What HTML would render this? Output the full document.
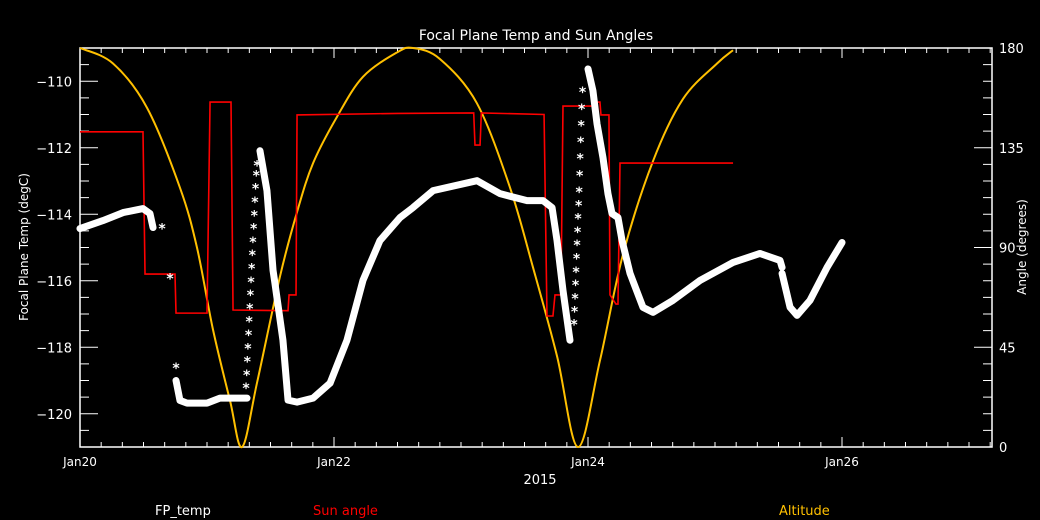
<!DOCTYPE html>
<html><head><meta charset="utf-8">
<style>
html,body{margin:0;padding:0;background:#000;}
svg{display:block;font-family:"DejaVu Sans","Liberation Sans",sans-serif;}
</style></head>
<body>
<svg id="chart" width="1040" height="520" viewBox="0 0 1040 520" xmlns="http://www.w3.org/2000/svg">
<rect width="1040" height="520" fill="#000"/>
<text x="536" y="40" fill="#fff" font-size="14" text-anchor="middle">Focal Plane Temp and Sun Angles</text>
<text transform="translate(28,247) rotate(-90)" fill="#fff" font-size="12" text-anchor="middle">Focal Plane Temp (degC)</text>
<text transform="translate(1026,247) rotate(-90)" fill="#fff" font-size="12" text-anchor="middle">Angle (degrees)</text>
<text x="540" y="484" fill="#fff" font-size="13" text-anchor="middle">2015</text>
<text x="155" y="515" fill="#fff" font-size="13">FP_temp</text>
<text x="313" y="515" fill="#ff0000" font-size="13">Sun angle</text>
<text x="779" y="515" fill="#ffc000" font-size="13">Altitude</text>
<g id="axes"></g>
<g id="series"></g>
</svg>
<script>
const xTicks = [0, 2, 4, 6];
const xTickLabels = ["Jan20", "Jan22", "Jan24", "Jan26"];
const yTicks = [-120, -118, -116, -114, -112, -110];
const y2Ticks = [0, 45, 90, 135, 180];
const tempLine1 = [[0,-114.43],[0.181,-114.19],[0.339,-113.95],[0.496,-113.83],[0.551,-113.98],[0.575,-114.4]];
const tempLine2 = [[0.756,-119.0],[0.787,-119.6],[0.843,-119.68],[1.0,-119.68],[1.102,-119.53],[1.315,-119.53]];
const tempLine3 = [[1.417,-112.09],[1.472,-113.29],[1.52,-115.69],[1.535,-116.08],[1.598,-117.79],[1.638,-119.59],[1.709,-119.65],[1.835,-119.53],[1.969,-119.08],[2.102,-117.79],[2.228,-115.99],[2.362,-114.79],[2.52,-114.1],[2.622,-113.8],[2.78,-113.29],[3.126,-112.99],[3.307,-113.38],[3.52,-113.59],[3.646,-113.59],[3.717,-113.8],[3.756,-114.79],[3.803,-116.29],[3.858,-117.79]];
const tempLine4 = [[4.0,-109.63],[4.039,-110.29],[4.071,-111.28],[4.118,-112.3],[4.157,-113.38],[4.189,-113.98],[4.236,-114.1],[4.268,-114.79],[4.331,-115.78],[4.433,-116.8],[4.512,-116.95],[4.669,-116.59],[4.882,-115.99],[5.142,-115.45],[5.354,-115.18],[5.512,-115.39],[5.528,-115.6]];
const tempLine5 = [[5.528,-115.78],[5.591,-116.8],[5.646,-117.04],[5.748,-116.59],[5.882,-115.6],[6.0,-114.85]];
const tempStars = [[0.646,-114.4],[0.709,-115.9],[0.756,-118.6],
 [1.307,-119.2],[1.312,-118.8],[1.317,-118.4],[1.322,-118.0],[1.327,-117.6],[1.332,-117.2],[1.337,-116.8],[1.342,-116.4],[1.347,-116.0],[1.352,-115.6],[1.357,-115.2],[1.362,-114.8],[1.367,-114.4],[1.372,-114.0],[1.377,-113.6],[1.382,-113.2],[1.388,-112.8],[1.394,-112.5],
 [3.89,-117.28],[3.894,-116.9],[3.898,-116.5],[3.902,-116.1],[3.906,-115.7],[3.91,-115.3],[3.914,-114.9],[3.918,-114.5],[3.922,-114.1],[3.926,-113.7],[3.93,-113.3],[3.934,-112.8],[3.938,-112.3],[3.942,-111.8],[3.946,-111.3],[3.95,-110.8],[3.957,-110.3]];
const sunAngle = [[0,142.2],[0.496,142.2],[0.512,78],[0.748,78],[0.756,60.4],[1.0,60.4],[1.024,155.6],[1.189,155.6],[1.205,61.8],[1.638,61.5],[1.646,68.6],[1.701,68.6],[1.709,149.8],[2.5,150.5],[3.1,150.7],[3.11,136.2],[3.15,136.2],[3.16,150.7],[3.654,150],[3.677,59.1],[3.724,59.1],[3.74,68.6],[3.787,68.6],[3.803,153.8],[4.039,153.8],[4.063,155.6],[4.094,155.6],[4.102,149.8],[4.165,149.8],[4.173,68.6],[4.22,64.5],[4.236,64.5],[4.252,128.1],[5.142,128.1]];
const altitude = [[0,180],[0.26,173],[0.528,153],[0.787,117],[0.921,90],[1.047,53],[1.181,21],[1.276,0],[1.394,29],[1.575,77],[1.709,106],[1.835,128],[2.024,149],[2.228,167],[2.496,178],[2.622,180],[2.835,175],[3.126,155],[3.386,117],[3.567,81],[3.756,41],[3.921,0],[4.094,39],[4.276,87],[4.512,129],[4.748,157],[5.016,173],[5.142,179]];

const L=80,R=992,T=48,B=447, XMAX=7.181;
const xS=d=>L+(R-L)*d/XMAX;
const yS=t=>B-(B-T)*(t+121)/12;
const y2S=a=>B-(B-T)*a/180;
const NS="http://www.w3.org/2000/svg";
function mk(tag,attrs,parent){const e=document.createElementNS(NS,tag);for(const k in attrs)e.setAttribute(k,attrs[k]);parent.appendChild(e);return e;}
const axes=document.getElementById('axes'), ser=document.getElementById('series');
let frame=mk('rect',{x:L,y:T,width:R-L,height:B-T,fill:'none',stroke:'#fff','stroke-width':1.5},axes);


for(let i=0;i*(1/6)<=XMAX+1e-6;i++){const d=i/6,x=xS(d),major=(i%12===0),len=major?10:5;
 mk('line',{x1:x,x2:x,y1:B,y2:B-len,stroke:'#fff'},axes);mk('line',{x1:x,x2:x,y1:T,y2:T+len,stroke:'#fff'},axes);}
xTicks.forEach((d,i)=>{const t=mk('text',{x:xS(d),y:466,fill:'#fff','font-size':12,'text-anchor':'middle'},axes);t.textContent=xTickLabels[i];
 
 });
for(let v=-121;v<=-109;v+=0.5){const y=yS(v),major=Math.abs(v%2)===0;mk('line',{x1:L,x2:L+(major?18:9),y1:y,y2:y,stroke:'#fff'},axes);}
yTicks.forEach(v=>{const t=mk('text',{x:72,y:yS(v)+5,fill:'#fff','font-size':13,'text-anchor':'end'},axes);t.textContent='\u2212'+Math.abs(v);
 
 });
for(let a=0;a<=180;a+=7.5){const y=y2S(a),major=(a%45===0);mk('line',{x1:R,x2:R-(major?18:9),y1:y,y2:y,stroke:'#fff'},axes);}
y2Ticks.forEach(a=>{const t=mk('text',{x:999,y:y2S(a)+5,fill:'#fff','font-size':13},axes);t.textContent=a;
 
 });
function smooth(pts){let d='M'+pts[0][0]+','+pts[0][1];for(let i=0;i<pts.length-1;i++){const p0=pts[Math.max(i-1,0)],p1=pts[i],p2=pts[i+1],p3=pts[Math.min(i+2,pts.length-1)];
 d+=` C${p1[0]+(p2[0]-p0[0])/6},${p1[1]+(p2[1]-p0[1])/6} ${p2[0]-(p3[0]-p1[0])/6},${p2[1]-(p3[1]-p1[1])/6} ${p2[0]},${p2[1]}`;}return d;}
const alt=mk('path',{d:smooth(altitude.map(p=>[xS(p[0]),y2S(p[1])])),fill:'none',stroke:'#ffc000','stroke-width':2},ser);


const sun=mk('polyline',{points:sunAngle.map(p=>xS(p[0])+','+y2S(p[1])).join(' '),fill:'none',stroke:'#ff0000','stroke-width':1.6},ser);


[tempLine1,tempLine2,tempLine3,tempLine4,tempLine5].forEach((s,i)=>{
 const p=mk('polyline',{points:s.map(q=>xS(q[0])+','+yS(q[1])).join(' '),fill:'none',stroke:'#fff','stroke-width':7,'stroke-linejoin':'round','stroke-linecap':'round'},ser);
 
 });
tempStars.forEach(q=>{const t=mk('text',{x:xS(q[0]),y:yS(q[1])+6,fill:'#fff','font-size':14,'font-weight':'bold','text-anchor':'middle'},ser);t.textContent='*';
 
 });
</script>
</body></html>
